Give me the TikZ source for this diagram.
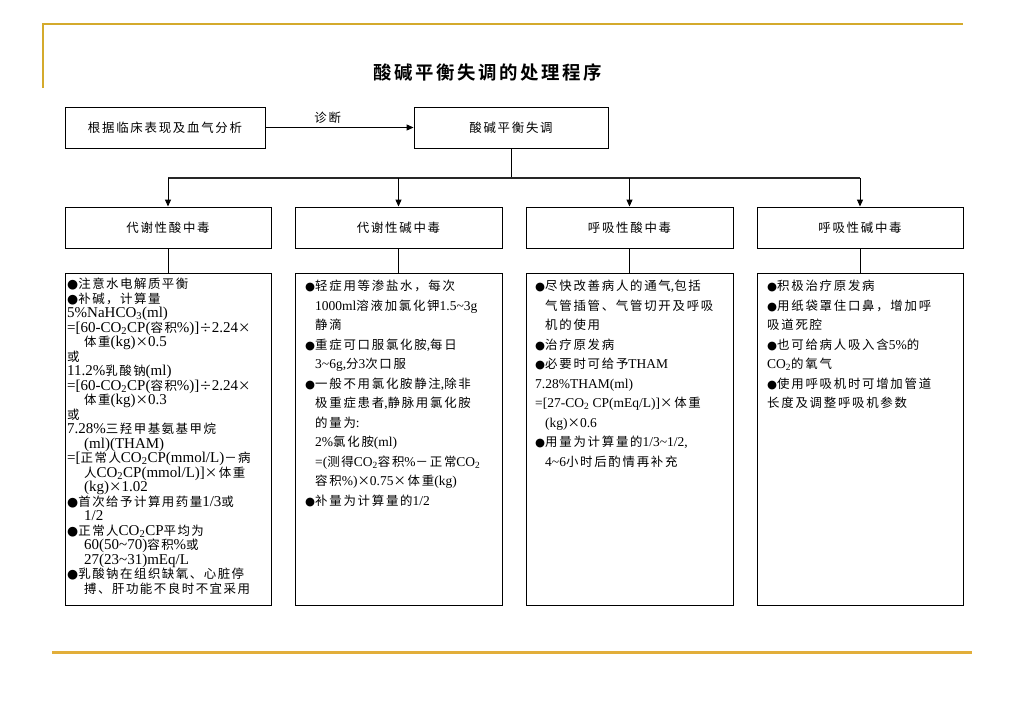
\documentclass[tikz,border=0pt]{standalone}
\usepackage{fontspec}
\setmainfont{Liberation Serif}
\newfontfamily\cjk{Noto Sans CJK SC}[BoldFont={Noto Sans CJK SC Bold},Scale=0.92,LetterSpace=14]
\newfontfamily\cjksm{Noto Sans CJK SC}[Scale=0.83,LetterSpace=12]
\newfontfamily\sym{DejaVu Sans}[Scale=0.85]
\usepackage{xcolor}
\usepackage{tikz}
\usetikzlibrary{arrows.meta}
\definecolor{gold}{HTML}{D4AA2C}
\definecolor{goldline}{HTML}{E2AE3A}
% CJK characters switch to the CJK family automatically
\XeTeXinterchartokenstate=1
\newXeTeXintercharclass\cjkcls
\newcount\cjkcnt
\newcommand\setcjkrange[2]{\cjkcnt=#1\relax
  \loop\XeTeXcharclass\cjkcnt=\cjkcls
  \ifnum\cjkcnt<#2\advance\cjkcnt by 1\repeat}
\setcjkrange{"3000}{"303F}
\setcjkrange{"4E00}{"9FFF}
\setcjkrange{"FF00}{"FFEF}
\XeTeXcharclass"00D7=\cjkcls
\XeTeXcharclass"00F7=\cjkcls
\newcommand\usecjk{\cjk}
\XeTeXinterchartoks 0 \cjkcls = {\usecjk}
\XeTeXinterchartoks 4095 \cjkcls = {\usecjk}
\XeTeXinterchartoks \cjkcls 0 = {\rmfamily}
\XeTeXinterchartoks \cjkcls 4095 = {\rmfamily}
\newcommand\bul{{\sym ●}}
\newcommand\COtwo{CO\textsubscript{2}}
\newcommand\til{\textasciitilde}
\newcommand\ind{\hspace*{10pt}}
\newcommand\indA{\hspace*{17pt}}

\begin{document}
\begin{tikzpicture}[x=1pt,y=-1pt,
  >={Triangle[length=7pt,width=6pt]},
  hdr/.style={draw,line width=0.9pt,minimum height=41pt,inner sep=0pt,
              font=\fontsize{13.5}{16}\selectfont},
  panel/.style={draw,line width=0.9pt,minimum width=206pt,minimum height=332pt,inner sep=0pt},
  txt/.style={anchor=north west,align=left,inner sep=0pt,font=\fontsize{13.5}{19.5}\selectfont},
  txtsm/.style={txt,font=\let\usecjk\cjksm\fontsize{15}{14.5}\selectfont},
  lbl/.style={font=\fontsize{13.5}{16}\selectfont,inner sep=3pt},
  ]
  \useasboundingbox (0,0) rectangle (1024,725);
  % ---- page frame ----
  \draw[gold,line width=2.5pt] (43,88) -- (43,24) -- (963,24);
  \draw[goldline,line width=3pt] (52,652) -- (972,652);

  \node[font=\fontsize{20}{24}\selectfont\bfseries] (ttl) at (488,72) {酸碱平衡失调的处理程序};

  % ---- diagnosis ----
  \node[hdr,minimum width=200pt] (diag) at (165,127.5) {根据临床表现及血气分析};
  \node[hdr,minimum width=194pt] (imb)  at (511,127.5) {酸碱平衡失调};
  \draw[->,line width=1pt] (diag) -- node[lbl,above,pos=0.42]{诊断} (imb);

  % ---- four disorders ----
  \node[hdr,minimum width=206pt] (mac) at (168,227.5) {代谢性酸中毒};
  \node[hdr,minimum width=207pt] (mal) at (398.5,227.5) {代谢性碱中毒};
  \node[hdr,minimum width=207pt] (rac) at (629.5,227.5) {呼吸性酸中毒};
  \node[hdr,minimum width=206pt] (ral) at (860,227.5) {呼吸性碱中毒};

  \coordinate (bus) at (511,178);
  \draw[line width=1pt] (imb.south) -- (bus);
  \draw[line width=1.8pt,black!85] (mac |- bus) -- (ral |- bus);
  \foreach \n in {mac,mal,rac,ral}
    \draw[->,line width=1pt] (\n |- bus) -- (\n.north);

  % ---- treatment panels ----
  \node[panel] (mac-p) at (168,439) {};
  \node[panel,minimum width=207pt] (mal-p) at (398.5,439) {};
  \node[panel,minimum width=207pt] (rac-p) at (629.5,439) {};
  \node[panel] (ral-p) at (860,439) {};
  \foreach \n in {mac,mal,rac,ral}
    \draw[line width=0.9pt] (\n.south) -- (\n-p.north);

  \node[txtsm] (mac-t) at (67,278) {\bul 注意水电解质平衡\\
    \bul 补碱，计算量\\
    5\%NaHCO\textsubscript{3}(ml)\\
    =[60-\COtwo CP(容积\%)]÷2.24×\\
    \indA 体重(kg)×0.5\\
    或\\
    11.2\%乳酸钠(ml)\\
    =[60-\COtwo CP(容积\%)]÷2.24×\\
    \indA 体重(kg)×0.3\\
    或\\
    7.28\%三羟甲基氨基甲烷\\
    \indA (ml)(THAM)\\
    =[正常人\COtwo CP(mmol/L)－病\\
    \indA 人\COtwo CP(mmol/L)]×体重\\
    \indA (kg)×1.02\\
    \bul 首次给予计算用药量1/3或\\
    \indA 1/2\\
    \bul 正常人\COtwo CP平均为\\
    \indA 60(50\til70)容积\%或\\
    \indA 27(23\til31)mEq/L\\
    \bul 乳酸钠在组织缺氧、心脏停\\
    \indA 搏、肝功能不良时不宜采用};

  \node[txt] (mal-t) at (305,280) {\bul 轻症用等渗盐水，每次\\
    \ind 1000ml溶液加氯化钾1.5\til3g\\
    \ind 静滴\\
    \bul 重症可口服氯化胺,每日\\
    \ind 3\til6g,分3次口服\\
    \bul 一般不用氯化胺静注,除非\\
    \ind 极重症患者,静脉用氯化胺\\
    \ind 的量为:\\
    \ind 2\%氯化胺(ml)\\
    \ind =(测得\COtwo 容积\%－正常\COtwo\\
    \ind 容积\%)×0.75×体重(kg)\\
    \bul 补量为计算量的1/2};

  \node[txt] (rac-t) at (535,280) {\bul 尽快改善病人的通气,包括\\
    \ind 气管插管、气管切开及呼吸\\
    \ind 机的使用\\
    \bul 治疗原发病\\
    \bul 必要时可给予THAM\\
    7.28\%THAM(ml)\\
    =[27-\COtwo{} CP(mEq/L)]×体重\\
    \ind (kg)×0.6\\
    \bul 用量为计算量的1/3\til1/2,\\
    \ind 4\til6小时后酌情再补充};

  \node[txt] (ral-t) at (767,280) {\bul 积极治疗原发病\\
    \bul 用纸袋罩住口鼻，增加呼\\
    吸道死腔\\
    \bul 也可给病人吸入含5\%的\\
    \COtwo 的氧气\\
    \bul 使用呼吸机时可增加管道\\
    长度及调整呼吸机参数};
\end{tikzpicture}
\end{document}
